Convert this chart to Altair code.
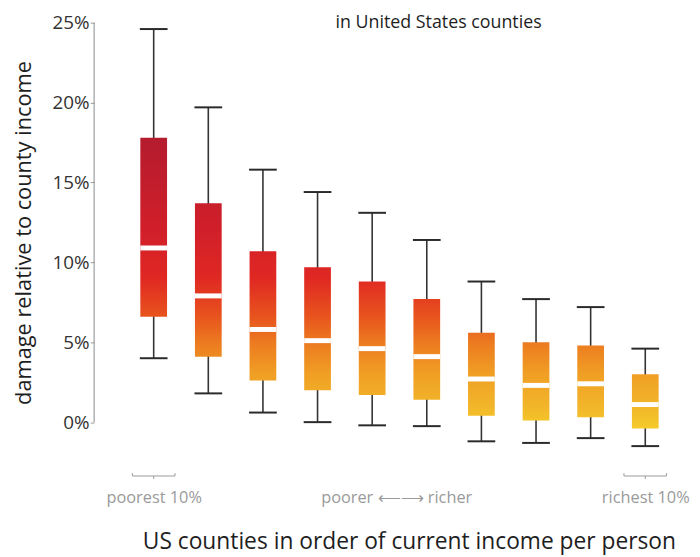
import altair as alt
import pandas as pd

# ---- data (percent of county income) ----
groups = [1, 2, 3, 4, 5, 6, 7, 8, 9, 10]
whisk_hi = [24.6, 19.7, 15.8, 14.4, 13.1, 11.4, 8.8, 7.7, 7.2, 4.6]
q3 = [17.8, 13.7, 10.7, 9.7, 8.8, 7.7, 5.6, 5.0, 4.8, 3.0]
median = [10.9, 7.9, 5.8, 5.1, 4.6, 4.1, 2.7, 2.3, 2.4, 1.1]
q1 = [6.6, 4.1, 2.6, 2.0, 1.7, 1.4, 0.4, 0.1, 0.3, -0.4]
whisk_lo = [4.0, 1.8, 0.6, 0.0, -0.2, -0.25, -1.2, -1.3, -1.0, -1.5]

y_ticks = [0, 5, 10, 15, 20, 25]
x_label_pos = [1, 5.44, 10]
x_labels = ["poorest 10%", "poorer \u27f5\u27f6 richer", "richest 10%"]
bracket_pos = [1, 10]
title_text = ["in United States counties"]

# colour ramp keyed to the damage value (value, colour)
ramp_vals = [25, 18, 12, 9, 6.5, 5, 3, 1, -0.5, -2]
ramp_cols = ["#9c1830", "#b31c2e", "#d11f2a", "#e02823", "#e8561d",
             "#ec7a20", "#f09f24", "#f2b52a", "#f5cd29", "#f7dc30"]

FONT = "Open Sans"

df = pd.DataFrame({"g": groups, "hi": whisk_hi, "q3": q3, "med": median,
                   "q1": q1, "lo": whisk_lo})


def hex2rgb(h):
    return [int(h[i:i + 2], 16) for i in (1, 3, 5)]


def color_at(v):
    for i in range(len(ramp_vals) - 1):
        a, b = ramp_vals[i], ramp_vals[i + 1]
        if b <= v <= a:
            t = (a - v) / (a - b)
            ca, cb = hex2rgb(ramp_cols[i]), hex2rgb(ramp_cols[i + 1])
            c = [round(ca[k] + (cb[k] - ca[k]) * t) for k in range(3)]
            return "#%02x%02x%02x" % tuple(c)
    return ramp_cols[0] if v > ramp_vals[0] else ramp_cols[-1]


def gradient_for(top, bottom):
    vals = [top] + [r for r in ramp_vals if bottom < r < top] + [bottom]
    stops = [alt.GradientStop(offset=(top - v) / (top - bottom), color=color_at(v))
             for v in vals]
    return alt.LinearGradient(gradient="linear", stops=stops, x1=0, x2=0, y1=0, y2=1)


xscale = alt.Scale(domain=[0, 10.62], nice=False, zero=False)
yscale = alt.Scale(domain=[-3, 25], nice=False, zero=False)

x_axis = alt.Axis(
    values=x_label_pos,
    labelExpr="datum.value == %s ? '%s' : datum.value == %s ? '%s' : '%s'" % (
        x_label_pos[0], x_labels[0], x_label_pos[2], x_labels[2], x_labels[1]),
    ticks=False, domain=False, grid=False, labelFlush=False,
    labelPadding=20, labelColor="#9a9a9a", labelFontSize=16.5, labelFont=FONT,
    title="US counties in order of current income per person",
    titleFont=FONT, titleFontSize=23, titleFontWeight="normal", titleColor="#1e1e1e",
    titlePadding=25, titleX=318,
)
y_axis = alt.Axis(
    values=y_ticks, labelExpr="datum.value + '%'",
    domain=False, grid=False, tickSize=4, tickColor="#999",
    labelFontSize=19, labelColor="#333333", labelFont=FONT, labelPadding=1,
    title="damage relative to county income", titleFont=FONT, titleFontSize=22,
    titleFontWeight="normal", titleColor="#1e1e1e", titlePadding=17, titleY=212,
)

base = alt.Chart(df)

whiskers = base.mark_rule(color="#333333", strokeWidth=1.6).encode(
    x=alt.X("g:Q", scale=xscale, axis=x_axis),
    y=alt.Y("lo:Q", scale=yscale, axis=y_axis),
    y2="hi:Q",
)
caps_hi = base.mark_tick(orient="horizontal", size=28, thickness=2, color="#2a2a2a",
                         opacity=1).encode(x="g:Q", y="hi:Q")
caps_lo = base.mark_tick(orient="horizontal", size=28, thickness=2, color="#2a2a2a",
                         opacity=1).encode(x="g:Q", y="lo:Q")

boxes = []
for i in range(len(groups)):
    sub = df.iloc[[i]]
    boxes.append(
        alt.Chart(sub).mark_bar(size=27, color=gradient_for(q3[i], q1[i]), opacity=1).encode(
            x="g:Q", y="q1:Q", y2="q3:Q")
    )

medians = base.mark_tick(orient="horizontal", size=27, thickness=5, color="white",
                         opacity=1).encode(x="g:Q", y="med:Q")

axis_line = alt.Chart(pd.DataFrame({"a": [y_ticks[0]], "b": [y_ticks[-1]]})).mark_rule(
    color="#8a8a8a", strokeWidth=1).encode(x=alt.value(0), y="a:Q", y2="b:Q")

br = alt.Chart(pd.DataFrame({"p": bracket_pos})).transform_calculate(
    l="datum.p - 0.39", r="datum.p + 0.39", yb="-3.37", ye="-3.19", yc="-3.56")
br_h = br.mark_rule(color="#9a9a9a", strokeWidth=1).encode(x="l:Q", x2="r:Q", y="yb:Q")
br_l = br.mark_rule(color="#9a9a9a", strokeWidth=1).encode(x="l:Q", y="yb:Q", y2="ye:Q")
br_r = br.mark_rule(color="#9a9a9a", strokeWidth=1).encode(x="r:Q", y="yb:Q", y2="ye:Q")
br_c = br.mark_rule(color="#9a9a9a", strokeWidth=1).encode(x="p:Q", y="yb:Q", y2="yc:Q")

top_title = alt.Chart(pd.DataFrame({"t": title_text})).mark_text(
    font=FONT, fontSize=18, color="#1e1e1e", baseline="alphabetic", align="center"
).encode(text="t:N", x=alt.value(348), y=alt.value(5))

chart = alt.layer(
    whiskers, caps_hi, caps_lo, *boxes, medians, axis_line, br_h, br_l, br_r, br_c,
    top_title
).properties(
    width=596, height=452,
    padding={"left": 87, "top": 12, "right": 8, "bottom": 85},
    autosize=alt.AutoSizeParams(type="none"),
    background="white",
).configure_view(stroke=None)

chart.save("out.html", embed_options={"renderer": "svg", "actions": False})
